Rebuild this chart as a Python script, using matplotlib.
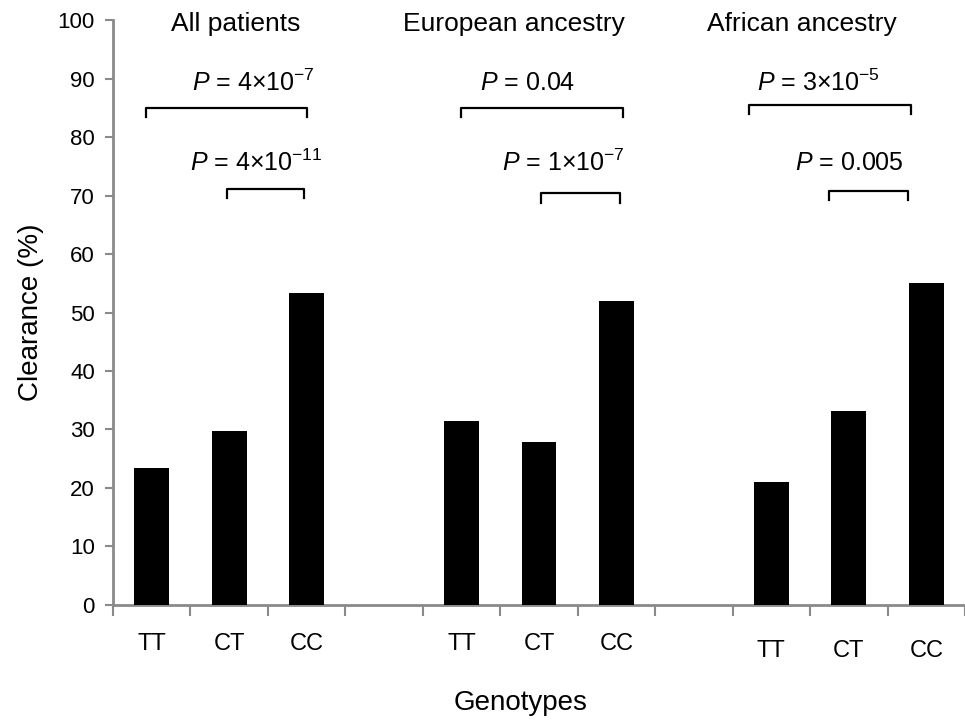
import matplotlib
matplotlib.use("Agg")
import matplotlib.pyplot as plt
import numpy as np

plt.rcParams['font.family'] = ['Liberation Sans', 'DejaVu Sans']
plt.rcParams['mathtext.fontset'] = 'custom'
plt.rcParams['mathtext.rm'] = 'Liberation Sans'
plt.rcParams['mathtext.it'] = 'Liberation Sans:italic'

# ---- data ----
groups = ['All patients', 'European ancestry', 'African ancestry']
genotypes = ['TT', 'CT', 'CC']
all_patients = [23.5, 29.8, 53.3]
european = [31.4, 27.9, 52.0]
african = [21.1, 33.1, 55.1]
p_tt_cc = [r'$\mathit{P}$ = 4×10$^{-7}$', r'$\mathit{P}$ = 0.04', r'$\mathit{P}$ = 3×10$^{-5}$']
p_ct_cc = [r'$\mathit{P}$ = 4×10$^{-11}$', r'$\mathit{P}$ = 1×10$^{-7}$', r'$\mathit{P}$ = 0.005']

values = [all_patients, european, african]
grey = '#8a8a8a'

fig = plt.figure(figsize=(9.65, 7.21), dpi=100)
ax = fig.add_axes([0.117, 0.161, 0.883, 0.811])

# 3 bars per group, one empty slot between groups
pos = []
for g in range(3):
    xs = np.arange(3) + g * 4
    pos.append(xs)
    ax.bar(xs, values[g], width=0.45, color='black', zorder=3)

ax.set_xlim(-0.5, 10.5)
ax.set_ylim(0, 100)
ax.set_yticks(range(0, 101, 10))
ax.tick_params(axis='y', direction='out', length=6, width=1.5, color=grey,
               labelsize=16, pad=7)
ax.set_xticks([])
ax.set_xticks(np.arange(-0.5, 10.6, 1), minor=True)
ax.tick_params(axis='x', which='minor', direction='out', length=8, width=1.5, color=grey)
for s in ['top', 'right']:
    ax.spines[s].set_visible(False)
for s in ['left', 'bottom']:
    ax.spines[s].set_color(grey)
    ax.spines[s].set_linewidth(2)
ax.set_ylabel('Clearance (%)', fontsize=20, labelpad=10)

trans = ax.get_xaxis_transform()
label_y = [-0.066, -0.066, -0.078]
for g in range(3):
    for i, lab in enumerate(genotypes):
        ax.text(pos[g][i], label_y[g], lab, transform=trans, ha='center', va='center',
                fontsize=17)

# group titles
title_x = [1.09, 4.68, 8.39]
for g in range(3):
    ax.text(title_x[g], 99.4, groups[g], ha='center', va='center', fontsize=19)

# significance brackets: (left, right, height) offsets relative to bars
big_off = [(-0.07, 0.0, 85.0), (0.0, 0.08, 85.0), (-0.29, -0.2, 85.5)]
small_off = [(-0.03, -0.03, 71.2), (0.02, 0.04, 70.4), (-0.25, -0.24, 70.8)]
big_txt_x = [0.52, 4.24, 7.81]
small_txt_x = [0.49, 4.52, 8.30]
drop = 1.6
for g in range(3):
    x0 = pos[g][0] + big_off[g][0]
    x1 = pos[g][2] + big_off[g][1]
    y = big_off[g][2]
    ax.plot([x0, x0, x1, x1], [y - drop, y, y, y - drop], color='black', lw=1.6,
            clip_on=False)
    x0 = pos[g][1] + small_off[g][0]
    x1 = pos[g][2] + small_off[g][1]
    y = small_off[g][2]
    ax.plot([x0, x0, x1, x1], [y - drop, y, y, y - drop], color='black', lw=1.6,
            clip_on=False)
    ax.text(big_txt_x[g], 89.3, p_tt_cc[g], ha='left', va='center', fontsize=18)
    ax.text(small_txt_x[g], 75.6, p_ct_cc[g], ha='left', va='center', fontsize=18)

fig.text(0.539, 0.025, 'Genotypes', ha='center', va='center', fontsize=20)

fig.savefig('out.png', dpi=100)
